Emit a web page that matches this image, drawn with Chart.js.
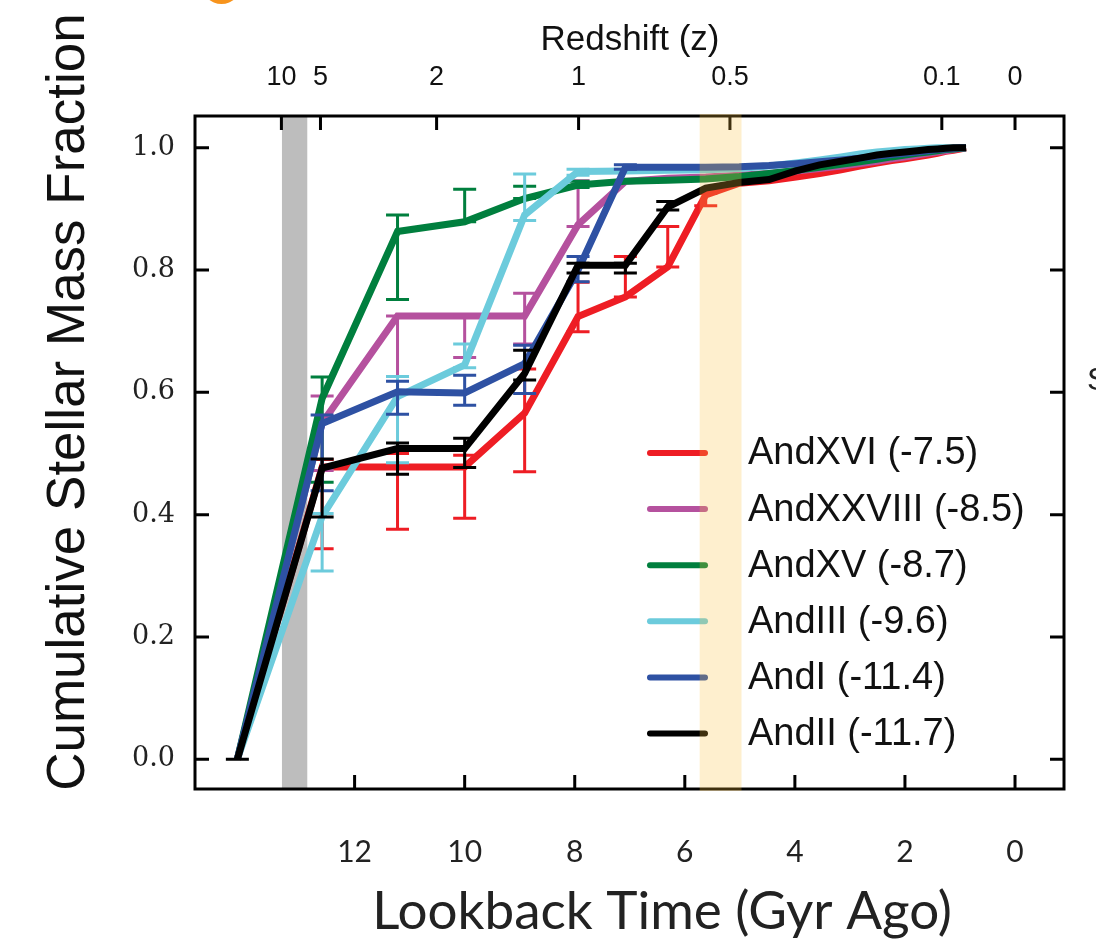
<!DOCTYPE html>
<html lang="en">

<head>
    <meta charset="UTF-8">
    <title>Cumulative Stellar Mass Fraction</title>
    <script src="https://cdn.jsdelivr.net/npm/chart.js"></script>
    <style>
        body {
            margin: 0;
            background-color: #ffffff;
        }

        canvas {
            display: block;
        }
    </style>
</head>

<body>
    <canvas id="sfhChart" width="1096" height="945"></canvas>

    <script type="text/javascript">

        // lookback time of each bin (Gyr)
        const lookback = [14.13, 12.59, 11.22, 10.0, 8.91, 7.94, 7.08, 6.31, 5.62, 5.01, 4.47, 3.98, 3.55, 3.16, 2.82, 2.51, 2.24, 2.0, 1.78, 1.58, 1.41, 1.26, 1.12, 1.0, 0.89];

        const names = ['AndXVI (-7.5)', 'AndXXVIII (-8.5)', 'AndXV (-8.7)', 'AndIII (-9.6)', 'AndI (-11.4)', 'AndII (-11.7)'];
        const colors = ['#ee1d24', '#b5519e', '#007f3e', '#6ccbdc', '#2e51a3', '#000000'];

        const andXVI = [0, 0.478, 0.478, 0.478, 0.566, 0.724, 0.756, 0.805, 0.923, 0.942, 0.946, 0.952, 0.958, 0.964, 0.970, 0.975, 0.979, 0.982, 0.985, 0.988, 0.991, 0.994, 0.996, 0.998, 1.0];
        const andXXVIII = [0, 0.55, 0.725, 0.725, 0.725, 0.874, 0.945, 0.95, 0.952, 0.955, 0.958, 0.962, 0.966, 0.970, 0.974, 0.978, 0.982, 0.985, 0.988, 0.991, 0.993, 0.995, 0.997, 0.999, 1.0];
        const andXV = [0, 0.59, 0.863, 0.879, 0.917, 0.939, 0.945, 0.947, 0.949, 0.953, 0.958, 0.963, 0.968, 0.973, 0.977, 0.981, 0.985, 0.988, 0.991, 0.993, 0.995, 0.997, 0.998, 0.999, 1.0];
        const andIII = [0, 0.397, 0.593, 0.645, 0.89, 0.961, 0.962, 0.963, 0.964, 0.966, 0.97, 0.975, 0.98, 0.985, 0.99, 0.993, 0.995, 0.997, 0.998, 0.999, 1.0, 1.0, 1.0, 1.0, 1.0];
        const andI = [0, 0.549, 0.601, 0.599, 0.647, 0.80, 0.968, 0.968, 0.968, 0.969, 0.971, 0.974, 0.977, 0.98, 0.983, 0.986, 0.989, 0.991, 0.993, 0.995, 0.997, 0.998, 0.999, 1.0, 1.0];
        const andII = [0, 0.476, 0.508, 0.508, 0.631, 0.808, 0.808, 0.903, 0.934, 0.943, 0.948, 0.962, 0.972, 0.978, 0.983, 0.988, 0.991, 0.993, 0.995, 0.997, 0.998, 0.999, 1.0, 1.0, 1.0];

        // error bar limits (low / high), only for the early bins
        const errLo = [
            [null, 0.344, 0.376, 0.394, 0.47, 0.699, 0.756, 0.805, 0.905],
            [null, 0.472, 0.626, 0.657, 0.679, 0.871],
            [null, 0.453, 0.752, 0.879, 0.917, 0.935],
            [null, 0.308, 0.485, 0.64, 0.881, 0.955],
            [null, 0.439, 0.564, 0.579, 0.598, 0.781, 0.965],
            [0, 0.396, 0.466, 0.477, 0.62, 0.795, 0.795, 0.898]
        ];
        const errHi = [
            [null, 0.49, 0.50, 0.497, 0.638, 0.78, 0.822, 0.871, 0.925],
            [null, 0.594, 0.725, 0.725, 0.762, 0.946],
            [null, 0.625, 0.89, 0.932, 0.937, 0.945],
            [null, 0.402, 0.626, 0.679, 0.957, 0.965],
            [null, 0.563, 0.618, 0.628, 0.677, 0.822, 0.972],
            [0, 0.491, 0.517, 0.525, 0.669, 0.811, 0.811, 0.912]
        ];

        const timeTicks = [12, 10, 8, 6, 4, 2, 0];
        const yTicks = [0, 0.2, 0.4, 0.6, 0.8, 1.0];
        const zLabels = ['10', '5', '2', '1', '0.5', '0.1', '0'];
        const zLookback = [13.33, 12.62, 10.51, 7.93, 5.18, 1.33, 0];

        const reionBand = [13.32, 12.86];
        const zHalfBand = [5.73, 4.97];

        const series = [andXVI, andXXVIII, andXV, andIII, andI, andII];

        var datasets = series.map((vals, i) => ({
            label: names[i],
            data: vals.map((v, j) => ({ x: lookback[j], y: v })),
            borderColor: colors[i],
            backgroundColor: colors[i],
            borderWidth: 7,
            pointRadius: 0,
            tension: 0,
            fill: false,
            order: series.length - i
        }));

        // error bars drawn right after each line
        const errorBars = {
            id: 'errorBars',
            afterDatasetDraw(chart, args) {
                var i = args.index;
                var ctx = chart.ctx;
                var xs = chart.scales.x, ys = chart.scales.y;
                ctx.save();
                ctx.strokeStyle = colors[i];
                ctx.lineWidth = 3;
                for (var j = 0; j < errLo[i].length; j++) {
                    if (errLo[i][j] === null) continue;
                    var px = xs.getPixelForValue(lookback[j]);
                    var p1 = ys.getPixelForValue(errLo[i][j]);
                    var p2 = ys.getPixelForValue(errHi[i][j]);
                    ctx.beginPath();
                    ctx.moveTo(px, p1); ctx.lineTo(px, p2);
                    ctx.moveTo(px - 11.5, p1); ctx.lineTo(px + 11.5, p1);
                    ctx.moveTo(px - 11.5, p2); ctx.lineTo(px + 11.5, p2);
                    ctx.stroke();
                }
                ctx.restore();
            }
        };

        // bands, frame, inward ticks, legend and titles
        const decor = {
            id: 'decor',
            beforeDatasetsDraw(chart) {
                var ctx = chart.ctx, a = chart.chartArea;
                var xs = chart.scales.x, ys = chart.scales.y, x2 = chart.scales.x2;
                ctx.save();
                var g1 = xs.getPixelForValue(reionBand[0]), g2 = xs.getPixelForValue(reionBand[1]);
                ctx.fillStyle = '#bdbdbd';
                ctx.fillRect(g1, a.top, g2 - g1, a.bottom - a.top);

                ctx.strokeStyle = '#000';
                ctx.lineWidth = 3;
                ctx.strokeRect(a.left, a.top, a.right - a.left, a.bottom - a.top);
                ctx.beginPath();
                timeTicks.forEach(t => {
                    var px = xs.getPixelForValue(t);
                    ctx.moveTo(px, a.bottom); ctx.lineTo(px, a.bottom - 14);
                });
                zLookback.forEach(t => {
                    var px = x2.getPixelForValue(t);
                    ctx.moveTo(px, a.top); ctx.lineTo(px, a.top + 14);
                });
                yTicks.forEach(v => {
                    var py = ys.getPixelForValue(v);
                    ctx.moveTo(a.left, py); ctx.lineTo(a.left + 14, py);
                    ctx.moveTo(a.right, py); ctx.lineTo(a.right - 14, py);
                });
                ctx.stroke();
                ctx.restore();
            },
            afterDatasetsDraw(chart) {
                var ctx = chart.ctx, a = chart.chartArea;
                var xs = chart.scales.x;
                ctx.save();
                // legend
                ctx.font = '38px "Liberation Sans", Arial, sans-serif';
                ctx.textBaseline = 'middle';
                ctx.textAlign = 'left';
                names.forEach((n, i) => {
                    var py = 453 + 56.1 * i;
                    ctx.strokeStyle = colors[i];
                    ctx.lineWidth = 6;
                    ctx.lineCap = 'round';
                    ctx.beginPath();
                    ctx.moveTo(650, py); ctx.lineTo(705, py);
                    ctx.stroke();
                    ctx.fillStyle = '#111';
                    ctx.fillText(n, 748, py + 1);
                });

                // z = 0.5 band, on top of everything
                var b1 = xs.getPixelForValue(zHalfBand[0]), b2 = xs.getPixelForValue(zHalfBand[1]);
                ctx.fillStyle = 'rgba(250, 190, 60, 0.25)';
                ctx.fillRect(b1, a.top - 2, b2 - b1, a.bottom - a.top + 4);

                // axis titles
                ctx.fillStyle = '#111';
                ctx.textAlign = 'center';
                ctx.font = '35px "Liberation Sans", Arial, sans-serif';
                ctx.fillText('Redshift (z)', 630, 40);
                ctx.font = '53px Lato, "Open Sans", sans-serif';
                ctx.fillStyle = '#222';
                ctx.fillText('Lookback Time (Gyr Ago)', 662, 912);
                ctx.save();
                ctx.translate(69, 402);
                ctx.rotate(-Math.PI / 2);
                ctx.fillStyle = '#111';
                ctx.font = '53px "Liberation Sans", Arial, sans-serif';
                ctx.fillText('Cumulative Stellar Mass Fraction', 0, 0);
                ctx.restore();

                // bits of the neighbouring panels
                ctx.textAlign = 'left';
                ctx.font = '32px "Liberation Sans", Arial, sans-serif';
                ctx.fillText('S', 1087, 381);
                ctx.fillStyle = '#f7941d';
                ctx.beginPath();
                ctx.arc(221.5, -16, 20, 0, Math.PI * 2);
                ctx.fill();
                ctx.restore();
            }
        };

        var ctx = document.getElementById('sfhChart').getContext('2d');
        var sfhChart = new Chart(ctx, {
            type: 'line',
            data: { datasets: datasets },
            plugins: [decor, errorBars],
            options: {
                responsive: false,
                animation: false,
                layout: { padding: { left: 0, right: 32, top: 0, bottom: 0 } },
                plugins: {
                    legend: { display: false },
                    tooltip: { enabled: false }
                },
                scales: {
                    x: {
                        type: 'linear',
                        position: 'bottom',
                        reverse: true,
                        min: -0.89,
                        max: 14.9,
                        grid: { display: false, drawTicks: false },
                        border: { display: false },
                        afterBuildTicks: s => { s.ticks = timeTicks.map(v => ({ value: v })); },
                        afterFit: s => { s.height = 156; },
                        ticks: {
                            autoSkip: false,
                            maxRotation: 0,
                            padding: 45,
                            color: '#222',
                            font: { family: 'Lato, "Open Sans", sans-serif', size: 30 },
                            callback: v => String(v)
                        }
                    },
                    x2: {
                        type: 'linear',
                        position: 'top',
                        reverse: true,
                        min: -0.89,
                        max: 14.9,
                        grid: { display: false, drawTicks: false },
                        border: { display: false },
                        afterBuildTicks: s => { s.ticks = zLookback.map(v => ({ value: v })); },
                        afterFit: s => { s.height = 116; },
                        ticks: {
                            autoSkip: false,
                            maxRotation: 0,
                            padding: 22,
                            color: '#111',
                            font: { family: '"Liberation Sans", Arial, sans-serif', size: 27 },
                            callback: (v, idx) => zLabels[idx]
                        }
                    },
                    y: {
                        type: 'linear',
                        min: -0.0487,
                        max: 1.0519,
                        grid: { display: false, drawTicks: false },
                        border: { display: false },
                        afterBuildTicks: s => { s.ticks = yTicks.map(v => ({ value: v })); },
                        afterFit: s => { s.width = 195; },
                        ticks: {
                            padding: 20,
                            color: '#222',
                            font: { family: '"DejaVu Serif", serif', size: 27 },
                            callback: v => v.toFixed(1)
                        }
                    }
                }
            }
        });
    </script>
</body>

</html>
